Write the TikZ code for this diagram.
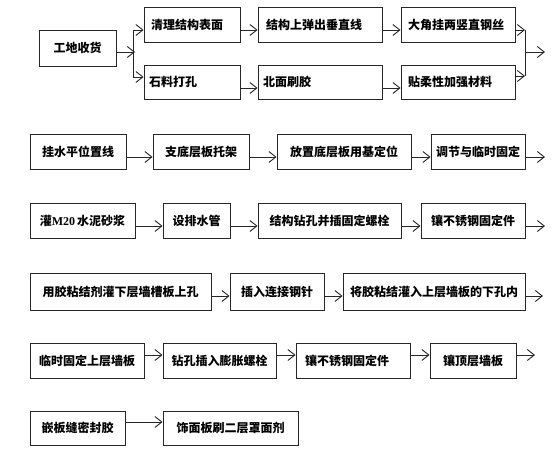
\documentclass[tikz,border=0pt]{standalone}
\usepackage{fontspec}
\setmainfont{Liberation Serif}
\newfontfamily\cjkfont{Noto Sans CJK SC}
\usetikzlibrary{arrows.meta}

\begin{document}
\begin{tikzpicture}[x=1pt, y=-1pt]
    \tikzset{stepbox/.style={draw=black!85, line width=0.9pt, minimum height=35pt, inner sep=0pt, font=\fontsize{12}{14}\selectfont\cjkfont\bfseries},
             leftbox/.style={stepbox, align=left},
             flow/.style={draw=black!85, line width=0.9pt, -{Straight Barb[length=7pt,width=11pt]}},
             link/.style={draw=black!85, line width=0.9pt}}

    \useasboundingbox (0,0) rectangle (553,454);

    % delivery and the two branches
    \node[stepbox, minimum width=77pt, minimum height=36pt] (recv) at (77.5,48) {工地收货};

    \node[leftbox, minimum width=96pt, text width=82pt] (clean) at (192,24.5) {清理结构表面};
    \node[leftbox, minimum width=124pt, text width=108pt] (plumb) at (320,24.5) {结构上弹出垂直线};
    \node[leftbox, minimum width=114pt, text width=100pt] (wire) at (458,24.5) {大角挂两竖直钢丝};

    \node[leftbox, minimum width=96pt, text width=86pt, minimum height=34pt] (drill) at (192,82) {石料打孔};
    \node[leftbox, minimum width=124pt, text width=114pt, minimum height=34pt] (glue) at (320,82) {北面刷胶};
    \node[leftbox, minimum width=114pt, text width=100pt, minimum height=34pt] (soft) at (458,82) {贴柔性加强材料};

    \coordinate (fork) at (135,52);
    \coordinate (forktop) at (133,30);
    \coordinate (forkbot) at (133,77);
    \coordinate (jointop) at (525,30);
    \coordinate (joinbot) at (525,76);
    \coordinate (join) at (525,52);
    \coordinate (out1) at (545,52);

    \draw[flow] ([yshift=-4pt]recv.east) -- (fork);
    \draw[link] (forktop) -- (forkbot);
    \draw[flow] (forktop) -- (forktop -| clean.west);
    \draw[flow] (forkbot) -- (forkbot -| drill.west);

    \draw[flow] ([yshift=-5.5pt]clean.east) -- ([yshift=-5.5pt]plumb.west);
    \draw[flow] ([yshift=-5.5pt]plumb.east) -- ([yshift=-5.5pt]wire.west);
    \draw[flow] ([yshift=-6pt]drill.east) -- ([yshift=-6pt]glue.west);
    \draw[flow] ([yshift=-6pt]glue.east) -- ([yshift=-6pt]soft.west);

    \draw[flow] ([yshift=-5.5pt]wire.east) -- (jointop);
    \draw[flow] ([yshift=6pt]soft.east) -- (joinbot);
    \draw[link] (jointop) -- (joinbot);
    \draw[flow] (join) -- (out1);

    % bottom course
    \node[stepbox, minimum width=96pt] (level) at (78,151.5) {挂水平位置线};
    \node[stepbox, minimum width=96pt] (bracket) at (201,151.5) {支底层板托架};
    \node[stepbox, minimum width=134pt] (base) at (344,151.5) {放置底层板用基定位};
    \node[stepbox, minimum width=94pt] (adjust) at (478,151.5) {调节与临时固定};
    \coordinate (out2) at (545,157);

    \draw[flow] ([yshift=-5.5pt]level.east) -- ([yshift=-5.5pt]bracket.west);
    \draw[flow] ([yshift=-5.5pt]bracket.east) -- ([yshift=-5.5pt]base.west);
    \draw[flow] ([yshift=-5.5pt]base.east) -- ([yshift=-5.5pt]adjust.west);
    \draw[flow] ([yshift=-5.5pt]adjust.east) -- (out2);

    % grouting and fixing
    \node[stepbox, minimum width=105pt] (grout) at (82.5,220.5) {灌{\rmfamily\bfseries M20}\,水泥砂浆};
    \node[stepbox, minimum width=67pt] (drain) at (196.5,220.5) {设排水管};
    \node[stepbox, minimum width=143pt] (bolt) at (329.5,220.5) {结构钻孔并插固定螺栓};
    \node[stepbox, minimum width=104pt] (anchor) at (473,220.5) {镶不锈钢固定件};
    \coordinate (out3) at (545,226);

    \draw[flow] ([yshift=-5.5pt]grout.east) -- ([yshift=-5.5pt]drain.west);
    \draw[flow] ([yshift=-5.5pt]drain.east) -- ([yshift=-5.5pt]bolt.west);
    \draw[flow] ([yshift=-5.5pt]bolt.east) -- ([yshift=-5.5pt]anchor.west);
    \draw[flow] ([yshift=-5.5pt]anchor.east) -- (out3);

    % pinning the courses
    \node[stepbox, minimum width=181pt, minimum height=37pt] (inject) at (120.5,291.5) {用胶粘结剂灌下层墙槽板上孔};
    \node[stepbox, minimum width=94pt, minimum height=37pt] (pin) at (277,291.5) {插入连接钢针};
    \node[stepbox, minimum width=182pt, minimum height=37pt] (fill) at (434,291.5) {将胶粘结灌入上层墙板的下孔内};
    \coordinate (out4) at (543,296);

    \draw[flow] ([yshift=-4.5pt]inject.east) -- ([yshift=-4.5pt]pin.west);
    \draw[flow] ([yshift=-4.5pt]pin.east) -- ([yshift=-4.5pt]fill.west);
    \draw[flow] ([yshift=-4.5pt]fill.east) -- (out4);

    % upper course
    \node[stepbox, minimum width=114pt] (temp) at (87,360.5) {临时固定上层墙板};
    \node[stepbox, minimum width=113pt] (expand) at (219.5,360.5) {钻孔插入膨胀螺栓};
    \node[leftbox, minimum width=114pt, text width=96pt] (anchortwo) at (353,360.5) {镶不锈钢固定件};
    \node[stepbox, minimum width=86pt] (topwall) at (473,360.5) {镶顶层墙板};
    \coordinate (out5) at (535,355);

    \draw[flow] ([yshift=5.5pt]temp.east) -- ([yshift=5.5pt]expand.west);
    \draw[flow] ([yshift=5.5pt]expand.east) -- ([yshift=5.5pt]anchortwo.west);
    \draw[flow] ([yshift=5.5pt]anchortwo.east) -- ([yshift=5.5pt]topwall.west);
    \draw[flow] ([yshift=5.5pt]topwall.east) -- (out5);

    % finishing
    \node[stepbox, minimum width=95pt, minimum height=34pt] (seal) at (77.5,428) {嵌板缝密封胶};
    \node[stepbox, minimum width=135pt, minimum height=34pt] (coat) at (230.5,428) {饰面板刷二层罩面剂};

    \draw[flow] ([yshift=6pt]seal.east) -- ([yshift=6pt]coat.west);
\end{tikzpicture}
\end{document}
